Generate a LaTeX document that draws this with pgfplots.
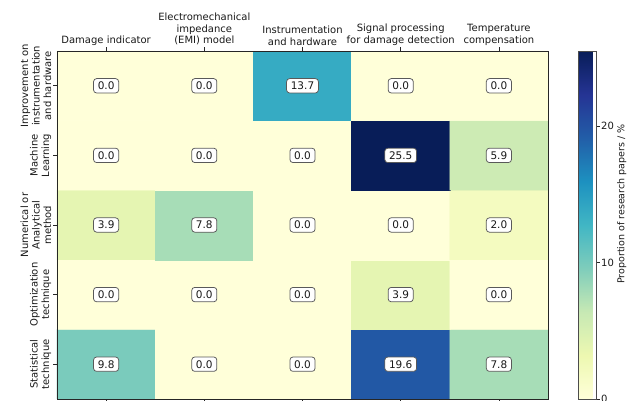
\documentclass[border=0pt]{standalone}
\usepackage{pgfplots}
\usepackage{pgfplotstable}
\pgfplotsset{compat=1.18}
\usepackage{fontspec}
\setmainfont{DejaVu Sans}
\begin{document}
% rows: y=4 Improvement, 3 Machine Learning, 2 Numerical, 1 Optimization, 0 Statistical
\pgfplotstableread{
x y c
0 0 9.8
1 0 0.0
2 0 0.0
3 0 19.6
4 0 7.8
0 1 0.0
1 1 0.0
2 1 0.0
3 1 3.9
4 1 0.0
0 2 3.9
1 2 7.8
2 2 0.0
3 2 0.0
4 2 2.0
0 3 0.0
1 3 0.0
2 3 0.0
3 3 25.5
4 3 5.9
0 4 0.0
1 4 0.0
2 4 13.7
3 4 0.0
4 4 0.0
}\datatable
\begin{tikzpicture}
\begin{axis}[name=main,
  scale only axis, width=491pt, height=348pt,
  xmin=-0.5, xmax=4.5, ymin=-0.5, ymax=4.5,
  enlargelimits=false, axis on top,
  /pgf/number format/assume math mode=true,
  colormap={ylgnbu}{rgb255=(255,255,217) rgb255=(237,248,177) rgb255=(199,233,180) rgb255=(127,205,187) rgb255=(65,182,196) rgb255=(29,145,192) rgb255=(34,94,168) rgb255=(37,52,148) rgb255=(8,29,88)},
  point meta min=0, point meta max=25.5,
  axis line style={black!85, line width=0.6pt},
  xtick={0,1,2,3,4}, ytick={0,1,2,3,4},
  xticklabels={{Damage indicator},{Electromechanical\\impedance\\(EMI) model},{Instrumentation\\and hardware},{Signal processing\\for damage detection},{Temperature\\compensation}},
  yticklabels={{Statistical\\technique},{Optimization\\technique},{Numerical or\\Analytical\\method},{Machine\\Learning},{Improvement on\\instrumentation\\and hardware}},
  xtick pos=both, xticklabel pos=upper, ytick pos=left,
  tick align=outside, major tick length=3.5pt,
  tick style={black!85, line width=0.6pt},
  xticklabel style={align=center, font=\fontsize{10}{11.5}\selectfont, anchor=south, text=black!90, inner sep=2pt},
  yticklabel style={align=center, rotate=90, anchor=south, font=\fontsize{10}{11.5}\selectfont, text=black!90, inner sep=2pt},
  colorbar,
  colorbar style={
    scale only axis, width=18pt,
    at={(parent axis.north east)}, anchor=north west, xshift=21.5pt,
    ytick={0,10,20},
    ytick pos=right, yticklabel pos=right,
    tick align=outside, major tick length=3.5pt,
    axis line style={black!70, line width=0.6pt},
    tick style={black!85, line width=0.6pt},
    /pgf/number format/assume math mode=true,
    yticklabel style={font=\fontsize{10}{11}\selectfont, inner sep=1.5pt, text=black!90},
    ylabel={Proportion of research papers / \%},
    ylabel style={font=\fontsize{9.5}{10}\selectfont, at={(ticklabel cs:0.56)}, anchor=near ticklabel, inner sep=1.5pt, text=black!90},
  },
]
\addplot[matrix plot*, mesh/cols=5, point meta=explicit] table[x=x, y=y, meta=c] {\datatable};
\addplot[draw=none, mark=none, point meta=explicit,
  nodes near coords={\pgfmathprintnumber[fixed, fixed zerofill, precision=1]{\pgfplotspointmeta}},
  every node near coord/.append style={anchor=center, draw=black!65, fill=white, rounded corners=3pt, line width=0.75pt, inner xsep=4.2pt, inner ysep=3.2pt, font=\fontsize{10.5}{11}\selectfont, text=black!90}
] table[x=x, y=y, meta=c] {\datatable};
\end{axis}
\pgfresetboundingbox
\path[use as bounding box] ([xshift=-57pt, yshift=-2pt]main.south west) rectangle ([xshift=573pt, yshift=399pt]main.south west);
\end{tikzpicture}
\end{document}
